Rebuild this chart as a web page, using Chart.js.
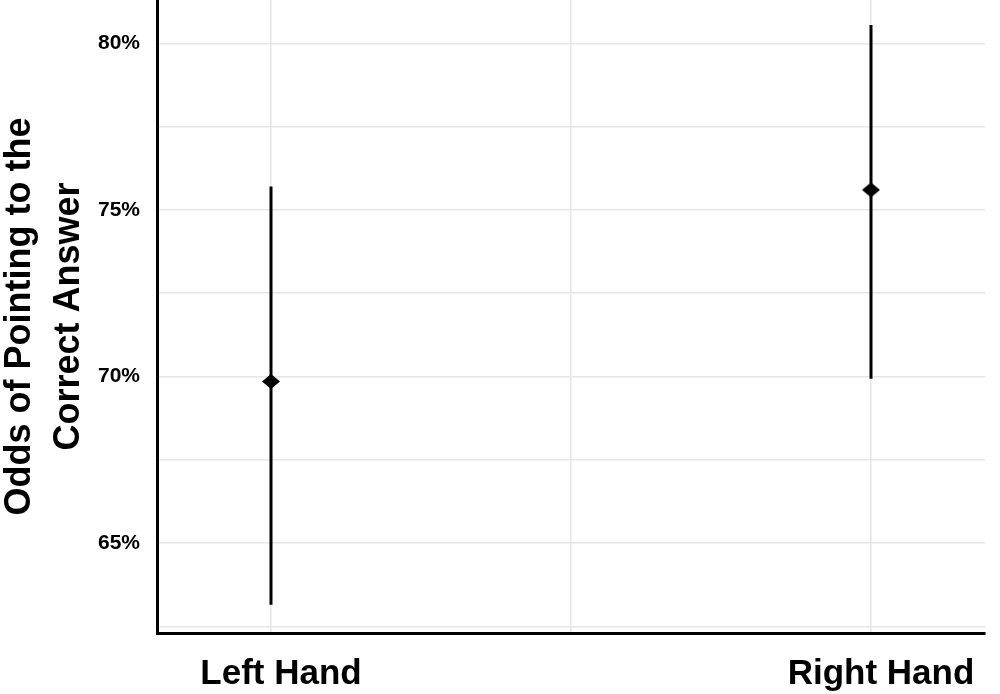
<!DOCTYPE html>
<html>
<head>
<meta charset="utf-8">
<script src="https://cdn.jsdelivr.net/npm/chart.js@4/dist/chart.umd.min.js"></script>
<style>
  html, body { margin: 0; padding: 0; background: #fff; }
  #wrap { width: 1000px; height: 694px; position: relative; }
</style>
</head>
<body>
<div id="wrap"><canvas id="chart"></canvas></div>
<script>
/* --------- データ --------- */
// カテゴリ（x位置は 1, 2）
const hands = ["Left Hand", "Right Hand"];
const handPos = [1, 2];
// 推定値と信頼区間（%）
const estimate = [69.85, 75.6];
const lower = [63.15, 69.93];
const upper = [75.7, 80.55];
// y軸の目盛り（ラベルは5%刻みのみ）
const yTicks = [62.5, 65, 67.5, 70, 72.5, 75, 77.5, 80];
const yLabelTicks = [65, 70, 75, 80];
const xGridTicks = [1, 1.5, 2];

/* --------- 菱形マーカー --------- */
function makeDiamond(w, h) {
  const c = document.createElement("canvas");
  c.width = w; c.height = h;
  const g = c.getContext("2d");
  g.fillStyle = "#000";
  g.beginPath();
  g.moveTo(w / 2, 0);
  g.lineTo(w, h / 2);
  g.lineTo(w / 2, h);
  g.lineTo(0, h / 2);
  g.closePath();
  g.fill();
  return c;
}
const diamond = makeDiamond(18, 15);

/* --------- データセット --------- */
// 各カテゴリの誤差線（縦線）
const errorSets = handPos.map((x, i) => ({
  type: "line",
  data: [{ x, y: lower[i] }, { x, y: upper[i] }],
  borderColor: "#000",
  borderWidth: 3,
  pointRadius: 0,
  showLine: true,
}));

const pointSet = {
  type: "scatter",
  data: handPos.map((x, i) => ({ x, y: estimate[i] })),
  pointStyle: diamond,
  pointRadius: 9,
};

const font = "'Liberation Sans', Arial, Helvetica, sans-serif";

new Chart(document.getElementById("chart"), {
  type: "scatter",
  data: { datasets: [...errorSets, pointSet] },
  options: {
    responsive: true,
    maintainAspectRatio: false,
    animation: false,
    layout: { autoPadding: false, padding: { top: 0, right: 15, bottom: 0, left: 0 } },
    plugins: { legend: { display: false }, tooltip: { enabled: false } },
    scales: {
      x: {
        type: "linear",
        min: 0.81,
        max: 2.19,
        afterBuildTicks: (s) => { s.ticks = xGridTicks.map((v) => ({ value: v })); },
        afterFit: (s) => { s.height = 61; s.paddingLeft = 0; s.paddingRight = 0; },
        grid: { color: "#e6e6e6", lineWidth: 1.5, drawTicks: false },
        border: { color: "#000", width: 3 },
        ticks: {
          color: "#000",
          padding: 20,
          labelOffset: 10,
          maxRotation: 0,
          autoSkip: false,
          font: { family: font, size: 35, weight: "bold" },
          callback: (v) => {
            const i = handPos.indexOf(v);
            return i >= 0 ? hands[i] : "";
          },
        },
      },
      y: {
        min: 62.3,
        max: 81.3,
        afterBuildTicks: (s) => { s.ticks = yTicks.map((v) => ({ value: v })); },
        afterFit: (s) => { s.width = 157; s.paddingTop = 0; s.paddingBottom = 0; },
        grid: { color: "#e6e6e6", lineWidth: 1.5, drawTicks: false },
        border: { color: "#000", width: 3 },
        ticks: {
          color: "#000",
          padding: 17,
          font: { family: font, size: 21, weight: "bold" },
          callback: (v) => (yLabelTicks.includes(v) ? v + "%" : ""),
        },
        title: {
          display: true,
          text: ["Odds of Pointing to the", "Correct Answer"],
          color: "#000",
          font: { family: font, size: 36, weight: "bold", lineHeight: 1.35 },
          padding: { top: -4, bottom: 0 },
        },
      },
    },
  },
});
</script>
</body>
</html>
